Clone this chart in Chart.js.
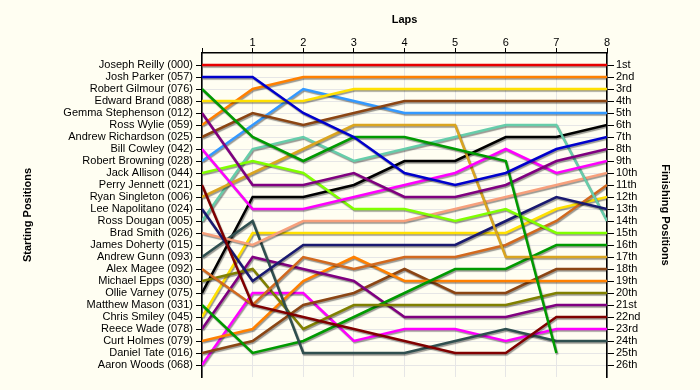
<!DOCTYPE html>
<html>
<head>
<meta charset="utf-8">
<script src="https://cdn.jsdelivr.net/npm/chart.js@4/dist/chart.umd.min.js"></script>
<style>
  html, body { margin: 0; padding: 0; background: #FFFEF2; }
  #wrap { width: 700px; height: 390px; position: relative; }
</style>
</head>
<body>
<div id="wrap"><canvas id="c" width="700" height="390"></canvas></div>
<script>
// ---- data ----
const laps = [0, 1, 2, 3, 4, 5, 6, 7, 8];
const positionTicks = [1,2,3,4,5,6,7,8,9,10,11,12,13,14,15,16,17,18,19,20,21,22,23,24,25,26];
const startingLabels = [
  'Joseph Reilly (000)', 'Josh Parker (057)', 'Robert Gilmour (076)', 'Edward Brand (088)',
  'Gemma Stephenson (012)', 'Ross Wylie (059)', 'Andrew Richardson (025)', 'Bill Cowley (042)',
  'Robert Browning (028)', 'Jack Allison (044)', 'Perry Jennett (021)', 'Ryan Singleton (006)',
  'Lee Napolitano (024)', 'Ross Dougan (005)', 'Brad Smith (026)', 'James Doherty (015)',
  'Andrew Gunn (093)', 'Alex Magee (092)', 'Michael Epps (030)', 'Ollie Varney (075)',
  'Matthew Mason (031)', 'Chris Smiley (045)', 'Reece Wade (078)', 'Curt Holmes (079)',
  'Daniel Tate (016)', 'Aaron Woods (068)'
];
const finishingLabels = [
  '1st','2nd','3rd','4th','5th','6th','7th','8th','9th','10th','11th','12th','13th',
  '14th','15th','16th','17th','18th','19th','20th','21st','22nd','23rd','24th','25th','26th'
];

// position of each driver at laps 0..8
const reilly     = [1, 1, 1, 1, 1, 1, 1, 1, 1];
const parker     = [2, 2, 5, 7, 10, 11, 10, 8, 7];
const gilmour    = [3, 7, 9, 7, 7, 8, 9, 25, null];
const brand      = [4, 4, 4, 3, 3, 3, 3, 3, 3];
const stephenson = [5, 11, 11, 10, 12, 12, 11, 9, 8];
const wylie      = [6, 3, 2, 2, 2, 2, 2, 2, 2];
const richardson = [7, 5, 6, 5, 4, 4, 4, 4, 4];
const cowley     = [8, 13, 13, 12, 11, 10, 8, 10, 9];
const browning   = [9, 6, 3, 4, 5, 5, 5, 5, 5];
const allison    = [10, 9, 10, 13, 13, 14, 13, 15, 15];
const jennett    = [11, 21, 22, 23, 24, 25, 25, 22, 22];
const singleton  = [12, 10, 8, 6, 6, 6, 17, 17, 17];
const napolitano = [13, 19, 16, 16, 16, 16, 14, 12, 13];
const dougan     = [14, 8, 7, 9, 8, 7, 6, 6, 14];
const smith      = [15, 16, 14, 14, 14, 13, 12, 11, 10];
const doherty    = [null, null, null, null, null, null, null, null, null];
const gunn       = [17, 14, 25, 25, 25, 24, 23, 24, 24];
const magee      = [18, 21, 17, 18, 17, 17, 16, 14, 11];
const epps       = [19, 18, 23, 21, 21, 21, 21, 20, 20];
const varney     = [20, 12, 12, 11, 9, 9, 7, 7, 6];
const mason      = [21, 25, 24, 22, 20, 18, 18, 16, 16];
const smiley     = [22, 15, 15, 15, 15, 15, 15, 13, 12];
const wade       = [23, 17, 18, 19, 22, 22, 22, 21, 21];
const holmes     = [24, 23, 19, 17, 19, 19, 19, 19, 19];
const tate       = [25, 24, 21, 20, 18, 20, 20, 18, 18];
const woods      = [26, 20, 20, 24, 23, 23, 24, 23, 23];

const driverSeries = [reilly, parker, gilmour, brand, stephenson, wylie, richardson, cowley,
  browning, allison, jennett, singleton, napolitano, dougan, smith, doherty, gunn, magee,
  epps, varney, mason, smiley, wade, holmes, tate, woods];

// ---- styles ----
const driverColors = ['#E80000', '#0000CC', '#009A00', '#FFE000', '#800080', '#FF8000', '#8B4513',
  '#FF00FF', '#3399FF', '#80FF00', '#800000', '#DAA520', '#191970', '#66CDAA', '#F7A07C',
  '#2F4F4F', '#2F4F4F', '#D2691E', '#808000', '#000000', '#009A00', '#FFE000', '#800080',
  '#FF8000', '#8B4513', '#FF00FF'];

const FONT = "'Liberation Sans', Arial, sans-serif";

const datasets = driverSeries.map((s, i) => ({
  label: startingLabels[i],
  data: laps.map((l, j) => ({ x: l, y: s[j] })),
  borderColor: driverColors[i],
  backgroundColor: driverColors[i],
  borderWidth: 2.5,
  pointRadius: 0,
  tension: 0,
  spanGaps: false,
  fill: false
}));

const bgPlugin = {
  id: 'bg',
  beforeDraw(chart) {
    const c = chart.ctx;
    c.save();
    c.fillStyle = '#FFFEF2';
    c.fillRect(0, 0, chart.width, chart.height);
    c.restore();
  }
};
const shadowPlugin = {
  id: 'shadow',
  beforeDatasetsDraw(chart) {
    const c = chart.ctx;
    c.save();
    c.shadowColor = 'rgba(0,0,0,0.4)';
    c.shadowOffsetX = 1;
    c.shadowOffsetY = 1.5;
    c.shadowBlur = 1;
  },
  afterDatasetsDraw(chart) {
    chart.ctx.restore();
  }
};

new Chart(document.getElementById('c'), {
  type: 'line',
  data: { datasets },
  plugins: [bgPlugin, shadowPlugin],
  options: {
    responsive: false,
    animation: false,
    layout: { padding: { top: 0, left: 0, right: 0, bottom: 13 } },
    plugins: { legend: { display: false }, tooltip: { enabled: false } },
    scales: {
      x: {
        type: 'linear',
        position: 'top',
        min: 0, max: 8,
        afterBuildTicks: (scale) => { scale.ticks = laps.map(v => ({ value: v })); },
        afterFit: (scale) => { scale.height = 53; },
        ticks: {
          callback: (v) => (v === 0 ? '' : String(v)),
          font: { family: FONT, size: 11 }, color: '#000', padding: -2, maxRotation: 0
        },
        grid: { color: '#E6E6E6', tickColor: '#000', tickLength: 5, lineWidth: 1 },
        border: { color: '#000', width: 1.6 },
        title: { display: true, text: 'Laps', font: { family: FONT, size: 11, weight: 'bold' },
                 color: '#000', padding: { top: 13, bottom: 0 } }
      },
      y: {
        type: 'linear',
        position: 'left',
        reverse: true,
        min: 0, max: 27,
        afterBuildTicks: (scale) => { scale.ticks = positionTicks.map(v => ({ value: v })); },
        afterFit: (scale) => { scale.width = 202; },
        ticks: {
          callback: (v) => startingLabels[v - 1] || '',
          font: { family: FONT, size: 11 }, color: '#000', padding: 3, autoSkip: false
        },
        grid: { color: '#E6E6E6', tickColor: '#000', tickLength: 6, lineWidth: 1 },
        border: { color: '#000', width: 1.6 },
        title: { display: true, text: 'Starting Positions', font: { family: FONT, size: 11, weight: 'bold' },
                 color: '#000', padding: { top: 21, bottom: 0 } }
      },
      y2: {
        type: 'linear',
        position: 'right',
        reverse: true,
        min: 0, max: 27,
        afterBuildTicks: (scale) => { scale.ticks = positionTicks.map(v => ({ value: v })); },
        afterFit: (scale) => { scale.width = 93; },
        ticks: {
          callback: (v) => finishingLabels[v - 1] || '',
          font: { family: FONT, size: 11 }, color: '#000', padding: 2, autoSkip: false
        },
        grid: { drawOnChartArea: false, tickColor: '#000', tickLength: 7 },
        border: { color: '#000', width: 1.6 },
        title: { display: true, text: 'Finishing Positions', font: { family: FONT, size: 11, weight: 'bold' },
                 color: '#000', padding: { top: 28, bottom: 0 } }
      }
    }
  }
});
</script>
</body>
</html>
